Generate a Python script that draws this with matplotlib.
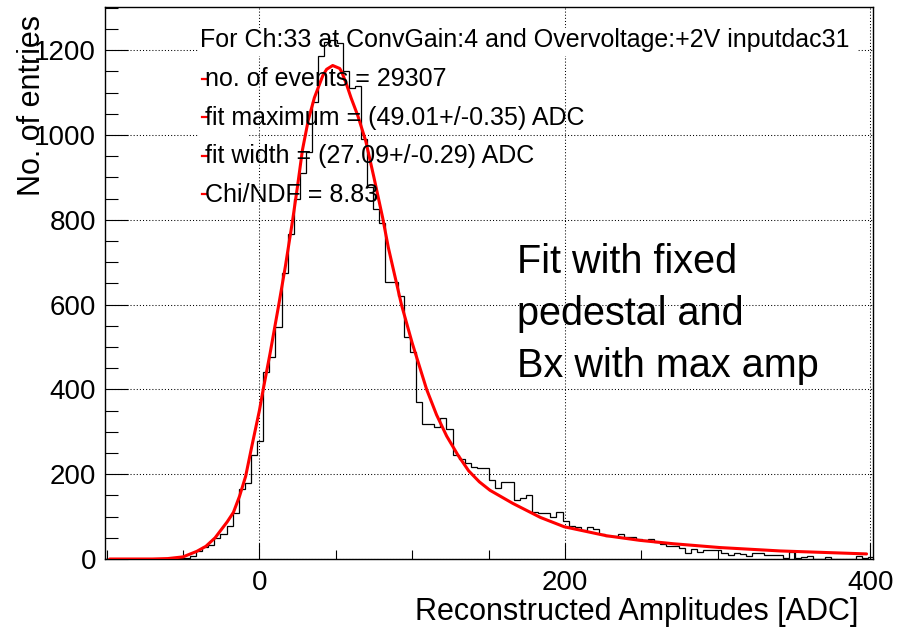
import numpy as np
import matplotlib
matplotlib.use("Agg")
from matplotlib import pyplot as plt
from matplotlib.patches import Rectangle
from matplotlib.lines import Line2D
from matplotlib.ticker import MultipleLocator

plt.rcParams["font.family"] = ["Liberation Sans", "DejaVu Sans"]

W, H = 897, 628

# histogram, 4 ADC wide bins starting at -101.5
bin_start = -101.5
bin_width = 4.0
counts = [0] * 11 + [
    2, 3, 3, 8, 20, 28, 33, 50, 59, 78, 108, 164, 179, 245, 278,
    441, 476, 547, 674, 766, 850, 910, 961, 1079, 1187, 1220, 1225, 1218,
    1150, 1110, 1116, 990, 878, 825, 792, 654, 654, 620, 524, 489,
    371, 319, 319, 311, 332, 306, 246, 235, 226, 218, 214, 214, 187, 167, 181, 181,
    138, 143, 150, 111, 108, 108, 99, 111, 89,
    78, 76, 69, 76, 70, 58, 55, 54, 60, 51, 52, 47, 44, 47, 40, 36, 31, 30,
    25, 15, 24, 17, 21, 21, 21,
    13, 9, 14, 12, 7, 13, 13, 10, 10, 10, 2, 17, 2, 4, 8, 1, 1, 4, 1, 1, 1, 1, 7, 2, 5,
]

# fit curve
fit_x = [-98, -70, -60, -50, -41, -35, -29, -21, -17, -13, -9, -5, 0, 2.5, 7, 12.7, 17,
         21.8, 25, 28.2, 32, 36, 41.5, 44, 48, 52.6, 54, 57, 60, 64.5, 69.7, 75, 80.7, 84.4,
         93, 100, 109.5, 116, 122.6, 130, 137, 144, 151, 166, 184, 199.6, 227, 249, 271,
         288, 301.5, 341, 397.5]
fit_y = [0, 0, 1, 5, 18, 30, 50, 88, 110, 148, 195, 265, 350, 400, 485, 600, 690,
         800, 880, 965, 1035, 1088, 1140, 1155, 1164, 1157, 1148, 1120, 1088, 1045, 985, 900,
         805, 735, 600, 510, 400, 340, 290, 245, 208, 182, 162, 131, 98, 76, 55, 44, 36,
         31, 27, 19, 12]

header = "For Ch:33 at ConvGain:4 and Overvoltage:+2V inputdac31"
entries = ["no. of events = 29307",
           "fit maximum = (49.01+/-0.35) ADC",
           "fit width = (27.09+/-0.29) ADC",
           "Chi/NDF = 8.83"]
note_lines = ["Fit with fixed", "pedestal and", "Bx with max amp"]
xlabel = "Reconstructed Amplitudes [ADC]"
ylabel = "No. of entries"


def fx(px):
    return px / W


def fy(py):
    return 1 - py / H


fig = plt.figure(figsize=(W / 100, H / 100), dpi=100)
ax = fig.add_axes([fx(104.5), fy(559), (872.5 - 104.5) / W, (559 - 7) / H])

edges = bin_start + bin_width * np.arange(len(counts) + 1)
ax.stairs(counts, edges, color="black", linewidth=0.9, zorder=3)
ax.plot(fit_x, fit_y, color="red", linewidth=2.2, zorder=4,
        solid_joinstyle="round", solid_capstyle="round")

ax.set_xlim(-101.4, 401.4)
ax.set_ylim(0, 1302)
ax.xaxis.set_major_locator(MultipleLocator(200))
ax.xaxis.set_minor_locator(MultipleLocator(50))
ax.yaxis.set_major_locator(MultipleLocator(200))
ax.yaxis.set_minor_locator(MultipleLocator(50))
ax.tick_params(axis="x", which="major", direction="in", length=11.5, width=0.8, labelsize=20, pad=8)
ax.tick_params(axis="x", which="minor", direction="in", length=6.5, width=0.8)
ax.tick_params(axis="y", which="major", direction="in", length=16.5, width=0.8, labelsize=20, pad=6)
ax.tick_params(axis="y", which="minor", direction="in", length=9, width=0.8)
for s in ax.spines.values():
    s.set_linewidth(1.0)

ax.set_axisbelow(True)
ax.grid(which="major", color="black", linestyle=(0, (1, 2)), linewidth=0.75)

# white boxes of the header and the (narrow) legend hide the grid only
for x0, y0, x1, y1 in [(199, 28, 857, 56), (199, 60, 248, 212)]:
    ax.add_patch(Rectangle((fx(x0), fy(y1)), (x1 - x0) / W, (y1 - y0) / H,
                           transform=fig.transFigure, facecolor="white",
                           edgecolor="none", zorder=1, clip_on=False))

fig.text(fx(199.7), fy(46.7), header, fontsize=18, ha="left", va="baseline")
for i, txt in enumerate(entries):
    base = 86.0 + 38.5 * i
    fig.add_artist(Line2D([fx(201.5), fx(206.5)], [fy(base - 7.5)] * 2,
                          transform=fig.transFigure, color="red", linewidth=1.6))
    fig.text(fx(205), fy(base), txt, fontsize=18, ha="left", va="baseline")

for i, txt in enumerate(note_lines):
    fig.text(fx(517), fy(273.3 + 51.7 * i), txt, fontsize=28.5, ha="left", va="baseline")

fig.text(fx(858), fy(620), xlabel, fontsize=22, ha="right", va="baseline")
# the axis title sits over the 1000/1200 labels, as in the reference
fig.text(fx(40), fy(15), ylabel, fontsize=22, rotation=90, rotation_mode="anchor",
         ha="right", va="baseline")

fig.savefig("out.png", dpi=100)
